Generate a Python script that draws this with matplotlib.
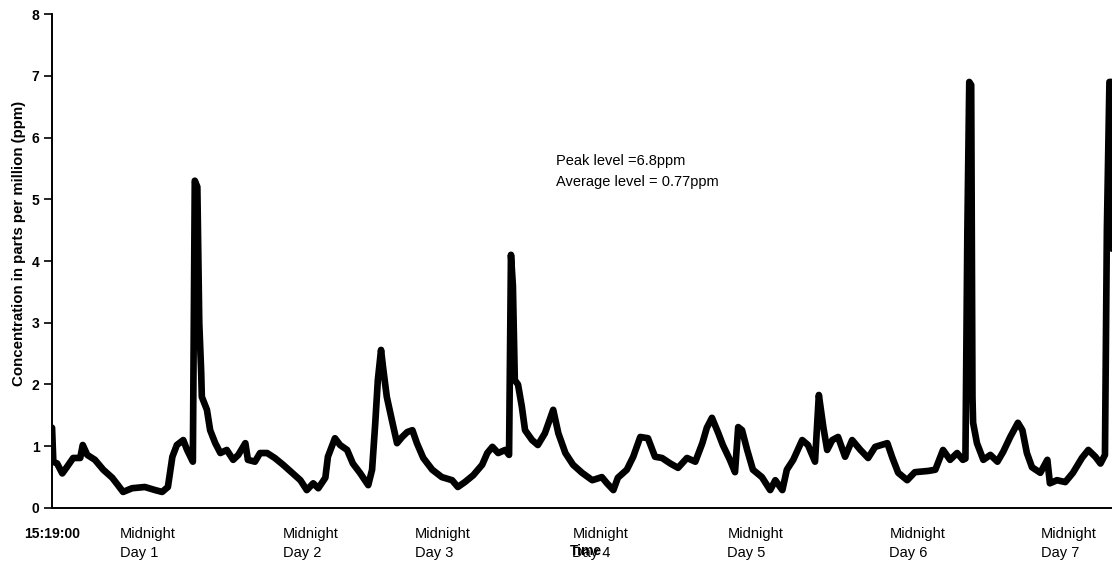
import matplotlib
matplotlib.use("Agg")
import matplotlib.pyplot as plt

# elapsed time in hours since 15:19:00
hours = [0.0, 0.2, 0.8, 1.6, 2.3, 3.3, 4.4, 4.8, 5.5, 6.7, 8.0, 9.4, 10.3, 11.1, 12.5, 14.5,
         16.1, 17.2, 18.1, 18.8, 19.5, 20.5, 21.1, 22.0, 22.3, 22.7, 23.0, 23.3, 23.4, 24.2,
         24.7, 25.5, 26.3, 27.3, 28.3, 29.1, 30.2, 30.6, 31.7, 32.5, 33.6, 34.8, 36.1, 37.5,
         38.8, 39.8, 40.8, 41.6, 42.7, 43.1, 44.2, 45.0, 46.1, 47.0, 48.1, 49.4, 50.0, 50.5,
         50.9, 51.4, 51.7, 52.3, 53.1, 53.9, 54.7, 55.5, 56.3, 57.0, 58.0, 59.4, 60.9, 62.5,
         63.4, 64.5, 65.8, 67.2, 68.0, 68.8, 69.7, 70.8, 71.4, 71.7, 72.0, 72.3, 72.8, 73.4,
         73.9, 75.0, 75.9, 77.0, 78.3, 79.1, 80.2, 81.4, 82.8, 84.4, 85.9, 86.7, 87.7, 88.4,
         89.8, 90.8, 91.9, 93.1, 94.2, 95.3, 96.6, 97.8, 99.2, 100.5, 101.6, 102.3, 103.1,
         104.1, 104.8, 105.9, 106.7, 107.2, 107.8, 108.6, 109.5, 110.9, 112.2, 113.0, 114.1,
         114.8, 115.8, 117.2, 118.1, 119.2, 119.8, 120.5, 121.1, 121.9, 122.8, 123.9, 125.0,
         126.3, 127.5, 128.6, 130.5, 131.3, 132.2, 133.6, 134.8, 136.9, 138.0, 139.2, 140.3,
         141.4, 142.3, 142.7, 143.0, 143.3, 143.6, 143.8, 143.9, 144.5, 145.5, 146.6, 147.7,
         148.6, 149.7, 150.9, 151.6, 152.3, 153.1, 154.4, 155.5, 155.9, 157.0, 158.3, 159.5,
         160.9, 161.9, 163.0, 163.8, 164.5, 164.8, 165.2, 165.5, 165.6]

ppm = [1.30, 0.75, 0.72, 0.56, 0.66, 0.81, 0.81, 1.02, 0.86, 0.78, 0.62, 0.49, 0.37, 0.26, 0.32, 0.34,
       0.29, 0.26, 0.34, 0.83, 1.02, 1.10, 0.94, 0.75, 5.30, 5.20, 3.00, 2.20, 1.80, 1.59,
       1.26, 1.05, 0.89, 0.94, 0.78, 0.86, 1.05, 0.78, 0.75, 0.89, 0.89, 0.81, 0.70, 0.57,
       0.45, 0.29, 0.40, 0.32, 0.49, 0.83, 1.13, 1.02, 0.94, 0.72, 0.57, 0.37, 0.62, 1.38,
       2.07, 2.56, 2.29, 1.80, 1.42, 1.05, 1.15, 1.23, 1.26, 1.05, 0.81, 0.62, 0.50, 0.45,
       0.34, 0.42, 0.53, 0.70, 0.89, 0.99, 0.89, 0.94, 0.86, 4.10, 3.60, 2.07, 2.00, 1.64,
       1.26, 1.10, 1.02, 1.21, 1.59, 1.21, 0.89, 0.70, 0.57, 0.45, 0.50, 0.40, 0.29, 0.49,
       0.62, 0.83, 1.15, 1.13, 0.83, 0.81, 0.72, 0.65, 0.81, 0.75, 1.05, 1.30, 1.46,
       1.21, 1.02, 0.78, 0.58, 1.31, 1.26, 0.94, 0.62, 0.50, 0.29, 0.45, 0.29,
       0.62, 0.78, 1.10, 1.02, 0.75, 1.83, 1.31, 0.94, 1.10, 1.15, 0.83, 1.10,
       0.94, 0.81, 0.99, 1.05, 0.81, 0.57, 0.45, 0.58, 0.60, 0.62, 0.94, 0.78,
       0.89, 0.78, 0.80, 4.45, 6.90, 6.85, 1.80, 1.38, 1.05, 0.78, 0.86, 0.75,
       0.91, 1.15, 1.38, 1.26, 0.89, 0.66, 0.57, 0.78, 0.40, 0.45, 0.42, 0.57,
       0.81, 0.94, 0.83, 0.72, 0.86, 4.50, 6.90, 6.90, 4.20]

tick_hours = [0.0, 10.6, 36.1, 56.7, 81.3, 105.5, 130.8, 154.5]
tick_labels = ["15:19:00", "Midnight\nDay 1", "Midnight\nDay 2", "Midnight\nDay 3",
               "Midnight\nDay 4", "Midnight\nDay 5", "Midnight\nDay 6", "Midnight\nDay 7"]
y_ticks = [0, 1, 2, 3, 4, 5, 6, 7, 8]
annotation = "Peak level =6.8ppm\nAverage level = 0.77ppm"

plt.rcParams['font.family'] = ['Liberation Sans', 'DejaVu Sans']

fig = plt.figure(figsize=(11.12, 5.65), dpi=100)
ax = fig.add_axes([0.0468, 0.1009, 0.9532, 0.8743])

ax.plot(hours, ppm, color='black', linewidth=4.8, solid_joinstyle='round',
        solid_capstyle='round')

ax.set_xlim(0, 165.6)
ax.set_ylim(0, 8)
ax.set_yticks(y_ticks)
ax.set_yticklabels([str(v) for v in y_ticks], fontsize=10, fontweight='bold')
ax.tick_params(axis='y', direction='out', length=6, width=1.2, pad=3, colors='black')

ax.set_xticks(tick_hours)
ax.set_xticklabels(tick_labels, fontsize=10.5, linespacing=1.45)
ax.tick_params(axis='x', length=0, pad=14)
for i, lab in enumerate(ax.get_xticklabels()):
    if i == 0:
        lab.set_fontweight('bold')
        lab.set_fontsize(10)
        lab.set_horizontalalignment('center')
    else:
        lab.set_horizontalalignment('left')
        lab.set_multialignment('left')

for s in ['top', 'right']:
    ax.spines[s].set_visible(False)
for s in ['left', 'bottom']:
    ax.spines[s].set_linewidth(1.4)
    ax.spines[s].set_color('black')

ax.set_ylabel("Concentration in parts per million (ppm)", fontsize=10.8, fontweight='bold')
ax.yaxis.set_label_coords(-0.0245, 0.535)

fig.text(0.5265, 0.025, "Time", fontsize=10, fontweight='bold', ha='center', va='center')

ax.text(0.475, 0.716, annotation, transform=ax.transAxes, fontsize=10.5,
        ha='left', va='top', linespacing=1.6)

fig.savefig("out.png", dpi=100)
